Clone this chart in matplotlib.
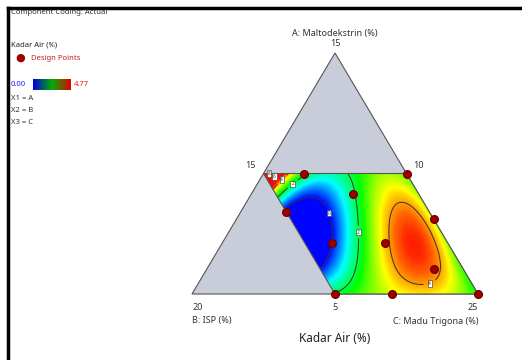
import matplotlib
matplotlib.use("Agg")
import matplotlib.pyplot as plt
from matplotlib.colors import LinearSegmentedColormap
from matplotlib.patches import Polygon
import numpy as np

plt.rcParams['font.family'] = ['Noto Sans', 'DejaVu Sans']

# design points, actual % (A: Maltodekstrin, B: ISP, C: Madu Trigona)
dp_a = [10.0, 10.0, 9.15, 8.4, 7.1, 7.1, 8.1, 6.05, 5.0, 5.0, 5.0]
dp_b = [13.6, 10.0, 12.3, 15.0, 14.05, 12.2, 10.0, 11.0, 15.0, 13.0, 10.0]
dp_c = [16.4, 20.0, 18.55, 16.6, 18.85, 20.7, 21.9, 22.95, 20.0, 22.0, 25.0]

# Kadar Air (%) read across the constrained region
obs_a = [10.0, 10.0, 10.0, 10.0, 10.0, 10.0, 10.0, 10.0, 10.0, 10.0, 10.0,
         9.5, 9.0, 8.5, 8.0, 7.25, 6.5, 6.0, 5.5, 5.0,
         5.0, 5.0, 5.0, 5.0, 5.0, 5.0, 5.0,
         9.05, 8.1, 6.6,
         7.25, 8.95, 8.5, 7.55, 6.95, 7.65,
         9.15, 7.65, 6.4, 5.35,
         9.2, 8.05, 6.2, 5.5, 6.0, 7.65, 9.0,
         6.75, 7.85, 7.1, 8.5,
         7.24, 8.28, 7.24, 6.2, 6.0, 7.65]
obs_c = [15.0, 15.3, 15.55, 15.85, 16.3, 16.8, 17.3, 17.7, 18.4, 19.1, 20.0,
         15.5, 16.0, 16.5, 17.0, 17.75, 18.5, 19.0, 19.5, 20.0,
         20.5, 21.2, 22.0, 23.0, 23.85, 24.5, 25.0,
         20.95, 21.9, 23.4,
         18.45, 17.25, 18.0, 18.65, 18.9, 18.85,
         18.55, 19.55, 20.1, 20.15,
         19.95, 20.3, 21.5, 23.0, 23.25, 21.8, 20.45,
         22.05, 21.2, 20.7, 19.65,
         21.33, 20.63, 20.45, 20.8, 22.3, 19.96]
obs_y = [9.0, 8.0, 6.0, 4.0, 2.0, 1.5, 1.6, 2.0, 2.5, 2.7, 2.8,
         5.0, 1.5, 0.0, -0.8, -1.2, -0.6, 0.0, 1.0, 2.0,
         2.5, 3.0, 3.4, 3.7, 3.4, 2.8, 2.5,
         3.0, 3.2, 2.9,
         -1.3, 0.0, 0.0, 0.0, 0.0, 1.0,
         2.0, 2.0, 2.0, 2.0,
         4.0, 4.0, 4.0, 4.0, 4.0, 4.0, 4.0,
         4.7, 4.3, 3.9, 3.1,
         4.6, 4.3, 3.7, 3.0, 4.4, 2.7]
obs_b = [40.0 - a - c for a, c in zip(obs_a, obs_c)]

low = [5.0, 10.0, 15.0]
span = 10.0
contour_levels = [0, 2, 4, 6, 8]
color_range = [0.00, 4.77]

W, H = 522, 360


def pseudo(a, b, c):
    xa = (np.asarray(a) - low[0]) / span
    xb = (np.asarray(b) - low[1]) / span
    xc = (np.asarray(c) - low[2]) / span
    return xa, xb, xc


def to_xy(xa, xb, xc):
    return xc + 0.5 * xa, xa


def px2xy(px, py):
    return (px - 192) / 286, (294 - py) / 241


def model_terms(xa, xb, xc):
    # full quartic Scheffe model
    return np.stack([xa, xb, xc, xa * xb, xa * xc, xb * xc,
                     xa * xb * (xa - xb), xa * xc * (xa - xc), xb * xc * (xb - xc),
                     xa * xb * (xa - xb) ** 2, xa * xc * (xa - xc) ** 2, xb * xc * (xb - xc) ** 2,
                     xa * xa * xb * xc, xa * xb * xb * xc, xa * xb * xc * xc], axis=-1)


def fit_model():
    xa, xb, xc = pseudo(obs_a, obs_b, obs_c)
    X = model_terms(xa, xb, xc)
    coef, *_ = np.linalg.lstsq(X, np.array(obs_y), rcond=None)
    return coef


def fx(px):
    return px / W


def fy(py):
    return 1 - py / H


cmap = LinearSegmentedColormap.from_list(
    "de", ["#0000ff", "#00ffff", "#00ff00", "#ffff00", "#ff0000"])
bar_cmap = LinearSegmentedColormap.from_list("bar", ["#0000e0", "#00b000", "#e00000"])

fig = plt.figure(figsize=(W / 100, H / 100), dpi=100)
ax = fig.add_axes([0, 0, 1, 1])
ax.set_xlim(-192 / 286, 330 / 286)
ax.set_ylim(-66 / 241, 294 / 241)
ax.axis("off")

# full simplex
tri = Polygon([(0, 0), (1, 0), (0.5, 1)], closed=True, facecolor="#c9cdd9",
              edgecolor="#555555", linewidth=0.8, zorder=1)
ax.add_patch(tri)

# constrained region
region = Polygon([(0.25, 0.5), (0.75, 0.5), (1, 0), (0.5, 0)], closed=True,
                 facecolor="none", edgecolor="#555555", linewidth=0.8, zorder=4)
ax.add_patch(region)

coef = fit_model()
gx, gy = np.meshgrid(np.linspace(0.2, 1.05, 500), np.linspace(-0.02, 0.52, 300))
ga = gy
gc = gx - 0.5 * gy
gb = 1 - ga - gc
z = model_terms(ga, gb, gc) @ coef

fill = ax.contourf(gx, gy, np.clip(z, *color_range), levels=np.linspace(*color_range, 120),
                   cmap=cmap, zorder=2)
fill.set_clip_path(region)

eps = 1e-3
inside = (ga <= 0.5 + eps) & (gb <= 0.5 + eps) & (gc >= -eps) & (gb >= -eps) & (ga >= -eps)
zin = np.ma.masked_where(~inside, z)
lines = ax.contour(gx, gy, zin, levels=contour_levels, colors="#333333",
                   linewidths=0.7, zorder=3)
label_spots = [px2xy(*p) for p in [(272, 171), (275, 177), (282, 180), (292, 183),
                                   (329, 213), (359, 232), (428, 278)]]
labels = ax.clabel(lines, fmt="%d", fontsize=3.5, inline=True, manual=label_spots)
for t in labels:
    t.set_rotation(0)
    t.set_bbox(dict(facecolor="white", edgecolor="#333333", linewidth=0.4, pad=0.6))

pa, pb, pc = pseudo(dp_a, dp_b, dp_c)
px, py = to_xy(pa, pb, pc)
ax.plot(px, py, "o", color="#a00000", markeredgecolor="#700000",
        markersize=5.5, zorder=6, clip_on=False)

# axis labels
ax.text(0.5, 1 + 20 / 241, "A: Maltodekstrin (%)", ha="center", va="center", fontsize=6.5, color="#333333")
ax.text(0.5, 1 + 9 / 241, "15", ha="center", va="center", fontsize=6.5, color="#333333")
ax.text(0.25 - 13 / 286, 0.5 + 8 / 241, "15", ha="center", va="center", fontsize=6.5, color="#333333")
ax.text(0.75 + 12 / 286, 0.5 + 8 / 241, "10", ha="center", va="center", fontsize=6.5, color="#333333")
ax.text(0 + 6 / 286, -13 / 241, "20", ha="center", va="center", fontsize=6.5, color="#333333")
ax.text(0.5, -13 / 241, "5", ha="center", va="center", fontsize=6.5, color="#333333")
ax.text(1 - 5 / 286, -13 / 241, "25", ha="center", va="center", fontsize=6.5, color="#333333")
ax.text(0, -27 / 241, "B: ISP (%)", ha="left", va="center", fontsize=6.5, color="#333333")
ax.text(1, -27 / 241, "C: Madu Trigona (%)", ha="right", va="center", fontsize=6.5, color="#333333")
ax.text(0.5, -44 / 241, "Kadar Air (%)", ha="center", va="center", fontsize=8.5, color="#222222")

# side legend
fig.text(fx(11), fy(13), "Component Coding: Actual", ha="left", va="center", fontsize=5.5, color="#333333")
fig.text(fx(11), fy(45), "Kadar Air (%)", ha="left", va="center", fontsize=5.5, color="#222222", weight="bold")
fig.text(fx(20), fy(58), "●", ha="center", va="center", fontsize=8, color="#a00000")
fig.text(fx(31), fy(58), "Design Points", ha="left", va="center", fontsize=5.5, color="#c02020")
fig.text(fx(11), fy(84), f"{color_range[0]:.2f}", ha="left", va="center", fontsize=5.5, color="#2020ff")
fig.text(fx(74), fy(84), f"{color_range[1]:.2f}", ha="left", va="center", fontsize=5.5, color="#e02020")
for i, s in enumerate(["X1 = A", "X2 = B", "X3 = C"]):
    fig.text(fx(11), fy(98 + 12 * i), s, ha="left", va="center", fontsize=5.5, color="#333333")

bar = fig.add_axes([fx(33), fy(90), 37 / W, 11 / H])
bar.imshow(np.linspace(0, 1, 100)[None, :], aspect="auto", cmap=bar_cmap)
bar.axis("off")

# frame lines
fig.add_artist(plt.Line2D([fx(8), fx(8)], [0, fy(8)], color="black", linewidth=2.5))
fig.add_artist(plt.Line2D([fx(8), 1], [fy(8), fy(8)], color="black", linewidth=2.5))

fig.savefig("out.png", dpi=100)
